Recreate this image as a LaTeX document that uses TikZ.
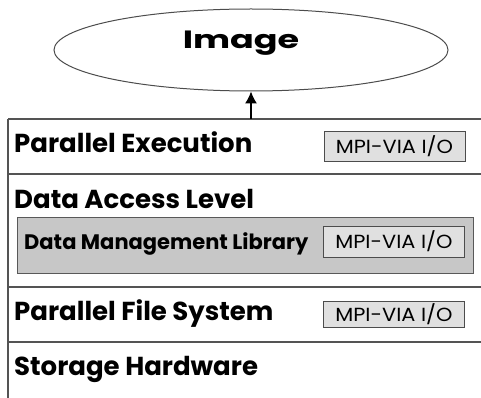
\documentclass[tikz,border=0pt]{standalone}
\usepackage{fontspec}
\setmainfont{Poppins}
\newfontfamily\widefont[FakeStretch=1.4]{Poppins}
\newfontfamily\mpifont[FakeStretch=1.1]{Poppins}
\usetikzlibrary{shapes.geometric,arrows.meta}

\begin{document}
\begin{tikzpicture}[
  x=1pt, y=-1pt,
  rule/.style={draw=black!67, line width=2pt},
  edge/.style={draw=black!67, line width=1.2pt},
  layer/.style={anchor=base west, inner sep=0pt, font=\bfseries\fontsize{26}{26}\selectfont},
  mpibox/.style={draw=black!70, fill=black!12, line width=1pt, minimum width=141pt, inner sep=0pt, font=\mpifont\fontsize{19}{19}\selectfont},
  libbox/.style={draw=black!65, fill=black!22, line width=1pt}
]
\useasboundingbox (0,0) rectangle (481,398);

% Top - image ellipse
\node[ellipse, draw=black!70, line width=1pt, minimum width=394pt, minimum height=82pt] (image) at (251,50) {};
\node[anchor=base, inner sep=0pt, font=\widefont\bfseries\fontsize{25}{25}\selectfont] (imagetext) at (241,49) {Image};

% Layer stack frame
\coordinate (stacktop) at (251,119);
\draw[rule] (8,119) -- (481,119);
\draw[edge] (8,119) -- (8,398);
\draw[rule] (8,174) -- (481,174);
\draw[rule] (8,287) -- (481,287);
\draw[rule] (8,342) -- (481,342);

% Data management library box
\node[libbox, minimum width=456pt, minimum height=56pt, anchor=north west] (dml) at (17,217) {};

% Layer labels
\node[layer] (exec) at (14,153) {Parallel Execution};
\node[layer] (access) at (14,208) {Data Access Level};
\node[layer, font=\bfseries\fontsize{21}{21}\selectfont] (dmltext) at (24,249) {Data Management Library};
\node[layer] (pfs) at (14,320) {Parallel File System};
\node[layer] (storage) at (14,375) {Storage Hardware};

% MPI-VIA boxes
\node[mpibox, minimum height=29pt] (mpi1) at (394.5,146.5) {MPI-VIA I/O};
\node[mpibox, minimum height=31pt] (mpi2) at (394,241.5) {MPI-VIA I/O};
\node[mpibox, minimum height=26pt] (mpi3) at (394,314) {MPI-VIA I/O};

% Arrow up to the image
\draw[-{Latex[length=12pt, width=12pt]}, line width=1.2pt] (stacktop) -- (image.south);

\end{tikzpicture}
\end{document}
